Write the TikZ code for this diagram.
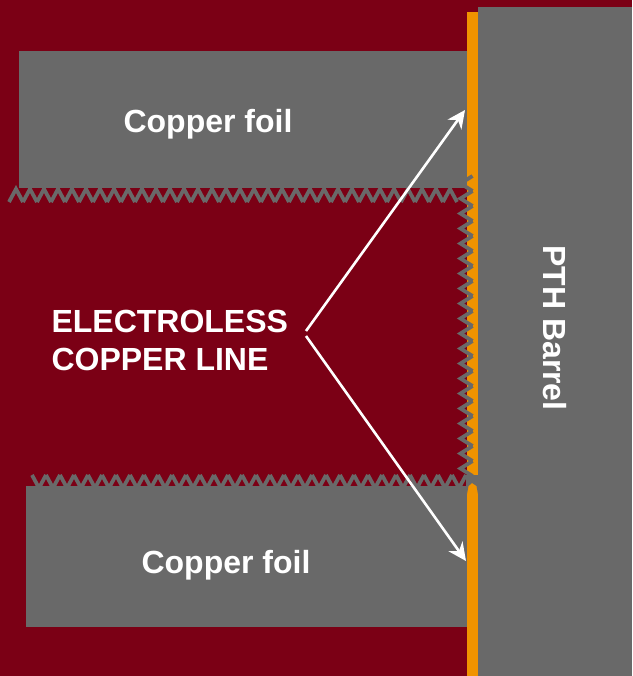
\documentclass[tikz,border=0pt]{standalone}
\usepackage{fontspec}
\setmainfont{Liberation Sans}
\usetikzlibrary{arrows.meta}
\definecolor{bgred}{HTML}{7B0015}
\definecolor{foilgray}{HTML}{696969}
\definecolor{platingorange}{HTML}{F09300}
\tikzset{
  foil/.style={fill=foilgray,draw=none},
  tooth/.style={draw=foilgray,line width=3.8pt,line join=miter},
  label/.style={text=white,font=\fontsize{32}{38}\selectfont\bfseries},
  pointer/.style={draw=white,line width=2.6pt,-{Stealth[length=18pt,width=17pt]}}
}
\begin{document}
\begin{tikzpicture}[x=1pt,y=-1pt]
  \useasboundingbox (0,0) rectangle (632,676);
  \fill[bgred] (0,0) rectangle (632,676);
  % foils and barrel
  \fill[foil] (19,51) rectangle (467,188);
  \fill[foil] (26,486) rectangle (467,627);
  \fill[platingorange] (467,12) rectangle (478,676);
  \fill[foil] (478,7) rectangle (632,676);
  % rough edges
  \foreach \x in {9,23,...,455} \draw[tooth] (\x,202) -- (\x+7,189) -- (\x+14,202);
  \foreach \x in {32,46,...,455} \draw[tooth] (\x,475) -- (\x+7,488) -- (\x+14,475);
  \foreach \y in {176,191,...,466} \draw[tooth] (472.5,\y) -- (460.5,\y+7.5) -- (472.5,\y+15);
  % gap in the plating
  \fill[foil] (466,475) -- (478,475) -- (478,494) -- (476.5,486) -- (472,483) -- (468.5,486) -- (467,494) -- (466,494) -- cycle;
  % labels
  \node[label] (top) at (208,124) {Copper foil};
  \node[label] (bottom) at (226,565) {Copper foil};
  \node[label,anchor=west,align=left] (line) at (48,340) {ELECTROLESS\\COPPER LINE};
  \node[label,rotate=-90] (barrel) at (555,328) {PTH Barrel};
  % arrows
  \coordinate (from1) at (306,331);
  \coordinate (from2) at (306,336);
  \coordinate (to1) at (465,110);
  \coordinate (to2) at (466,561);
  \draw[pointer] (from1) -- (to1);
  \draw[pointer] (from2) -- (to2);
\end{tikzpicture}
\end{document}
